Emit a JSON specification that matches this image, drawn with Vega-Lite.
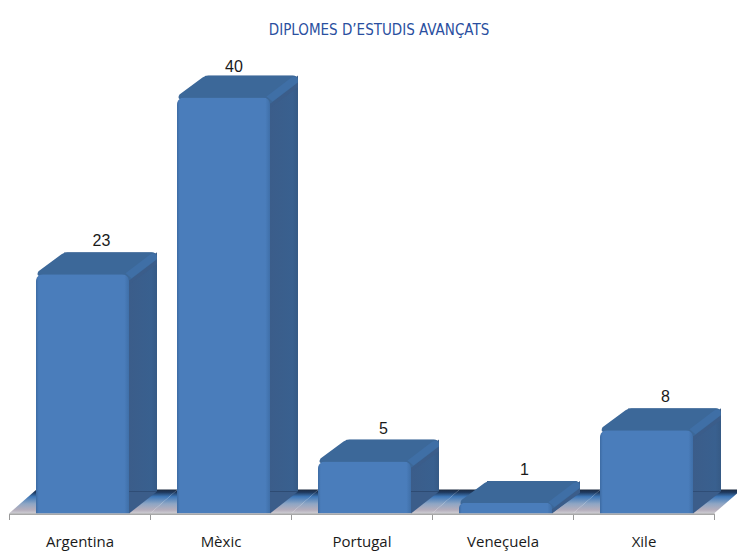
{
"$schema":"https://vega.github.io/schema/vega-lite/v6.json",
"autosize":{"type":"none"},
"padding":{"left":9,"top":14.3,"right":23,"bottom":37.5},
"width":705,"height":499.2,
"background":"white",
"config":{"view":{"stroke":null}},
"title":{"text":"DIPLOMES D’ESTUDIS AVANÇATS","font":"DejaVu Sans Condensed","fontSize":15,"fontWeight":"normal","color":"#2a4fa0","anchor":"middle","dx":17.5,"offset":-24},
"data":{"values":[{"pais":"Argentina","valor":23},{"pais":"Mèxic","valor":40},{"pais":"Portugal","valor":5},{"pais":"Veneçuela","valor":1},{"pais":"Xile","valor":8}]},
"resolve":{"scale":{"y":"independent"}},
"encoding":{
"x":{"field":"pais","type":"nominal","sort":null,"scale":{"type":"band","paddingInner":0,"paddingOuter":0},"axis":{"title":null,"tickBand":"extent","tickSize":6,"tickColor":"#999999","domainColor":"#a8a8a8","domainWidth":2,"labelAngle":0,"labelFont":"Open Sans","labelFontSize":15,"labelColor":"#1a1a1a","labelPadding":15,"grid":false}},
"y":{"field":"valor","type":"quantitative","scale":{"domain":[0,48],"nice":false},"axis":null}
},
"layer":[
{"mark":{"type":"point","shape":"M-70.5 0L70.5 0L98 -24L-43 -24Z","size":4,"filled":true,"opacity":1,"strokeWidth":0,"fill":{"gradient":"linear","x1":0,"x2":0,"y1":0,"y2":1,"stops":[{"offset":0,"color":"#1b2a40"},{"offset":0.12,"color":"#1f3a5f"},{"offset":0.3,"color":"#3f78b8"},{"offset":0.6,"color":"#8fa6c4"},{"offset":0.85,"color":"#b5aebc"},{"offset":1,"color":"#cfcfd4"}]}},"encoding":{"y":{"datum":0}}},
{"mark":{"type":"bar","width":93,"xOffset":31,"cornerRadiusTopRight":6,"fill":{"gradient":"linear","x1":0.7,"x2":1,"y1":0,"y2":0,"stops":[{"offset":0,"color":"#3b5d8a"},{"offset":0.8,"color":"#39608f"},{"offset":1,"color":"#365a85"}]}},"encoding":{"y":{"field":"valor","type":"quantitative","scale":{"domain":[0,48],"nice":false,"range":[477.2,-22]},"axis":null}}},
{"mark":{"type":"point","shape":"M49.5 0L77.5 -22L49.5 -22Z","size":4,"filled":true,"opacity":1,"strokeWidth":0,"fill":"#3b5d8a"},"encoding":{"y":{"datum":0}}},
{"mark":{"type":"point","shape":"M49.5 0L77.5 -22L77.5 -10L49.5 10Z","size":4,"filled":true,"opacity":1,"strokeWidth":0,"fill":"#3b5d8a"}},
{"mark":{"type":"point","shape":"M-41 -3L-18 -20Q-15 -22 -12 -22L72 -22Q77.5 -22 77.5 -17L77.5 -15L50 6L44 2L-38 2Q-44 2 -41 -3Z","size":4,"filled":true,"opacity":1,"strokeWidth":0,"fill":"#3c6899"}},
{"mark":{"type":"point","shape":"M46 -1L71 -20Q78 -23 77 -15L52 4Z","size":4,"filled":true,"opacity":1,"strokeWidth":0,"fill":"#3f6fa6"}},
{"mark":{"type":"bar","width":93,"xOffset":3,"cornerRadiusTopLeft":7,"cornerRadiusTopRight":7,"fill":{"gradient":"linear","x1":0,"x2":1,"y1":0,"y2":0,"stops":[{"offset":0,"color":"#3d6ba3"},{"offset":0.03,"color":"#4a7dbb"},{"offset":0.95,"color":"#4a7dbb"},{"offset":1,"color":"#3f6fa8"}]}}},
{"transform":[{"filter":"datum.pais !== 'Mèxic'"}],"mark":{"type":"text","font":"Liberation Sans","fontSize":16,"color":"#1a1a1a","baseline":"alphabetic","xOffset":22,"yOffset":-28},"encoding":{"text":{"field":"valor","type":"quantitative"}}},
{"transform":[{"filter":"datum.pais === 'Mèxic'"}],"mark":{"type":"text","font":"Liberation Sans","fontSize":16,"color":"#1a1a1a","baseline":"alphabetic","xOffset":13.5,"yOffset":-26},"encoding":{"text":{"field":"valor","type":"quantitative"}}}
]
}
